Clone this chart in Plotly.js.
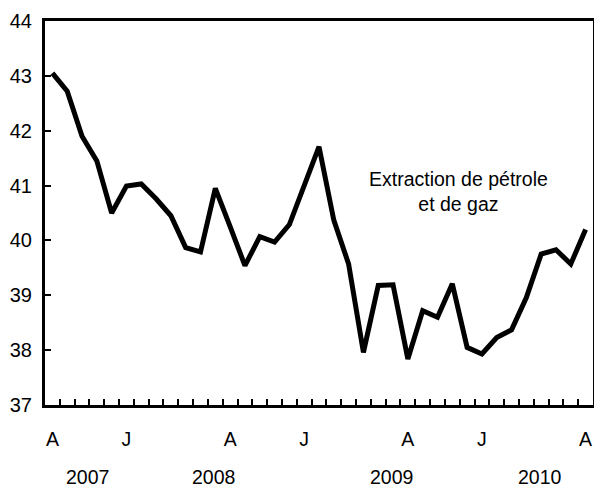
<!DOCTYPE html>
<html>
<head>
<meta charset="utf-8">
<script src="https://cdn.plot.ly/plotly-3.0.1.min.js"></script>
<style>html,body{margin:0;padding:0;background:#fff;}#chart{width:594px;height:487px;}</style>
</head>
<body>
<div id="chart"></div>
<script>
// Monthly series, August 2007 to August 2010
const months = ['2007-08','2007-09','2007-10','2007-11','2007-12',
  '2008-01','2008-02','2008-03','2008-04','2008-05','2008-06','2008-07','2008-08','2008-09','2008-10','2008-11','2008-12',
  '2009-01','2009-02','2009-03','2009-04','2009-05','2009-06','2009-07','2009-08','2009-09','2009-10','2009-11','2009-12',
  '2010-01','2010-02','2010-03','2010-04','2010-05','2010-06','2010-07','2010-08'];
const values = [43.05, 42.72, 41.90, 41.45, 40.50,
  40.99, 41.03, 40.76, 40.45, 39.87, 39.79, 40.95, 40.25, 39.54, 40.07, 39.97, 40.29,
  41.00, 41.71, 40.37, 39.57, 37.96, 39.18, 39.19, 37.84, 38.72, 38.60, 39.21, 38.05,
  37.93, 38.23, 38.37, 38.96, 39.75, 39.83, 39.57, 40.20];
const labelMonths = ['2007-08','2008-01','2008-08','2009-01','2009-08','2010-01','2010-08'];
const labelText = ['A','J','A','J','A','J','A'];
const years = ['2007','2008','2009','2010'];
const seriesName = 'Extraction de pétrole<br>et de gaz';

const idx = months.map((m,i)=>i);
const boundaries = idx.slice(0,-1).map(i=>i+0.5);
const labelIdx = labelMonths.map(m=>months.indexOf(m));

const font = {family:'Liberation Sans, Arial, sans-serif', size:19.5, color:'#000'};

const yearAnn = years.map(y=>{
  const ii = idx.filter(i=>months[i].startsWith(y));
  const c = (ii[0]+ii[ii.length-1])/2 + 0.4;
  return {x:c, xref:'x', y:-0.187, yref:'paper', text:y, showarrow:false, font:font, xanchor:'center', yanchor:'middle'};
});

const data = [
  {x: idx, y: values, type:'scatter', mode:'lines', line:{color:'#000', width:5}, name:'serie', hoverinfo:'skip'},
  {x: labelIdx, y: labelIdx.map(()=>null), xaxis:'x2', type:'scatter', mode:'lines', showlegend:false, hoverinfo:'skip'}
];

const layout = {
  width:594, height:487,
  margin:{l:45, r:1, t:21, b:82},
  paper_bgcolor:'#fff', plot_bgcolor:'#fff',
  showlegend:false,
  font: font,
  xaxis:{range:[-0.5, months.length-0.5], tickmode:'array', tickvals:boundaries, ticks:'inside', ticklen:6, tickwidth:2, tickcolor:'#000',
    showticklabels:false, showgrid:false, zeroline:false, showline:true, linecolor:'#000', linewidth:3, mirror:true},
  xaxis2:{overlaying:'x', anchor:'y', side:'bottom', range:[-0.5, months.length-0.5], tickmode:'array', tickvals:labelIdx, ticktext:labelText,
    ticks:'', showgrid:false, zeroline:false, showline:false, tickfont:font, ticklabelstandoff:20},
  yaxis:{range:[37,44], dtick:1, tick0:37, ticks:'inside', ticklen:6, tickwidth:2, tickcolor:'#000', showgrid:false, zeroline:false,
    showline:true, linecolor:'#000', linewidth:3, mirror:true, tickfont:{family:font.family, size:20, color:'#000'}, ticklabelstandoff:6},
  annotations:[
    {x:0.754, xref:'paper', y:0.556, yref:'paper', text:seriesName, showarrow:false, font:font, align:'center', xanchor:'center', yanchor:'middle'}
  ].concat(yearAnn)
};
Plotly.newPlot('chart', data, layout, {staticPlot:true, displayModeBar:false});
</script>
</body>
</html>
